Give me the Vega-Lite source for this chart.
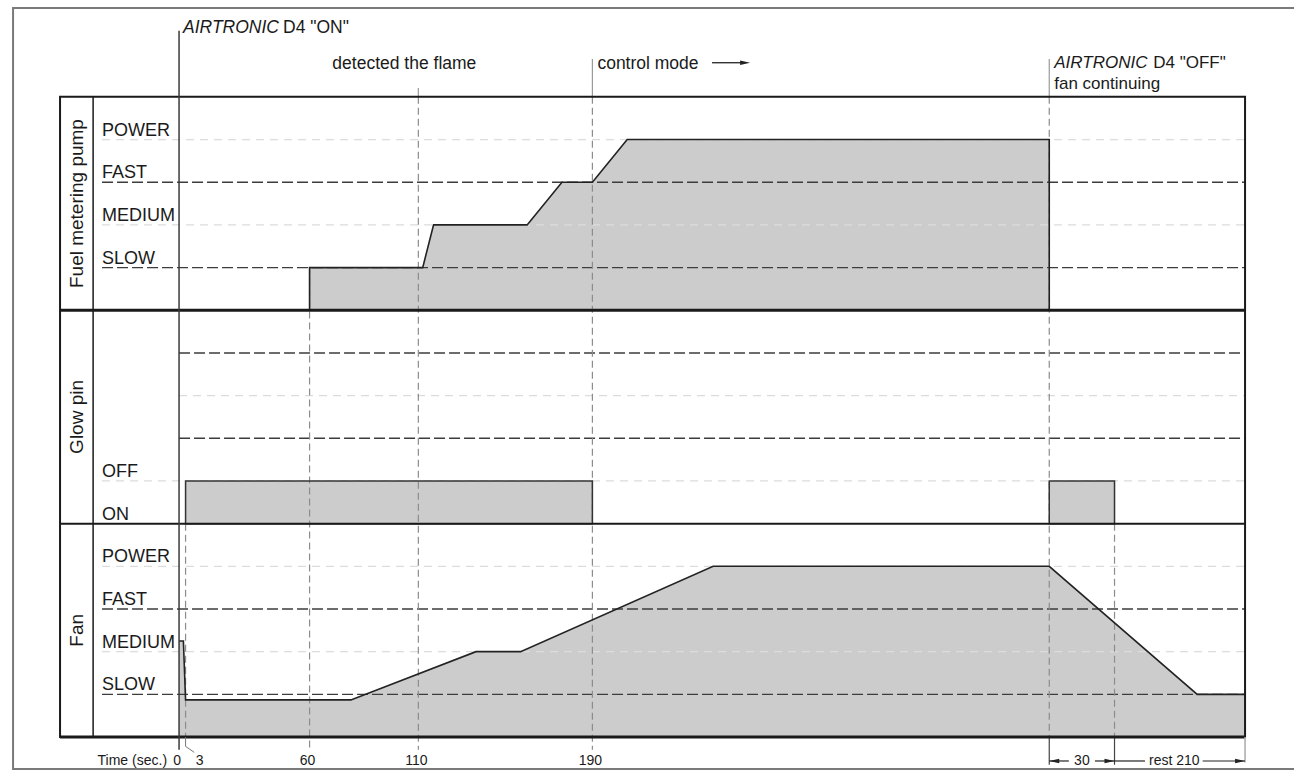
{
"$schema":"https://vega.github.io/schema/vega-lite/v6.json",
"width":1294,"height":772,"padding":0,
"autosize":{"type":"none"},
"background":"white",
"config":{"view":{"stroke":null},"text":{"font":"Liberation Sans","color":"#1a1a1a"}},
"datasets":{
 "levels":[
  {"panel":"Fuel metering pump","label":"POWER","L":14,"kind":"minor"},
  {"panel":"Fuel metering pump","label":"FAST","L":13,"kind":"major"},
  {"panel":"Fuel metering pump","label":"MEDIUM","L":12,"kind":"minor"},
  {"panel":"Fuel metering pump","label":"SLOW","L":11,"kind":"major"},
  {"panel":"Glow pin","label":"","L":9,"kind":"major"},
  {"panel":"Glow pin","label":"","L":8,"kind":"minor"},
  {"panel":"Glow pin","label":"","L":7,"kind":"major"},
  {"panel":"Glow pin","label":"OFF","L":6,"kind":"minor"},
  {"panel":"Glow pin","label":"ON","L":5,"kind":"none"},
  {"panel":"Fan","label":"POWER","L":4,"kind":"minor"},
  {"panel":"Fan","label":"FAST","L":3,"kind":"major"},
  {"panel":"Fan","label":"MEDIUM","L":2,"kind":"minor"},
  {"panel":"Fan","label":"SLOW","L":1,"kind":"major"}
 ],
 "pump":[
  {"i":1,"t":60,"L":10},{"i":2,"t":60,"L":11},{"i":3,"t":112,"L":11},{"i":4,"t":117,"L":12},
  {"i":5,"t":160,"L":12},{"i":6,"t":176,"L":13},{"i":7,"t":190,"L":13},{"i":8,"t":206,"L":14},
  {"i":9,"t":400,"L":14},{"i":10,"t":400,"L":10}
 ],
 "fan":[
  {"i":1,"t":0,"L":2.25},{"i":2,"t":2,"L":2.25},{"i":3,"t":3,"L":0.87},{"i":4,"t":79,"L":0.87},
  {"i":5,"t":136.5,"L":2},{"i":6,"t":157,"L":2},{"i":7,"t":245.5,"L":4},{"i":8,"t":400,"L":4},
  {"i":9,"t":468,"L":1},{"i":10,"t":490,"L":1}
 ],
 "glow":[{"start":3,"end":190},{"start":400,"end":430}],
 "events":[
  {"t":3,"top":5,"bottom":0},{"t":60,"top":11,"bottom":-0.3},{"t":110,"top":15,"bottom":-0.3},
  {"t":190,"top":15,"bottom":-0.3},{"t":400,"top":15,"bottom":0},{"t":430,"top":5,"bottom":0}
 ],
 "panels":[{"title":"Fuel metering pump","mid":12.5},{"title":"Glow pin","mid":7.5},{"title":"Fan","mid":2.5}],
 "ticks":[{"t":0,"label":"0"},{"t":60,"label":"60"},{"t":110,"label":"110"},{"t":190,"label":"190"}],
 "spans":[{"from":400,"to":409},{"from":421,"to":430},{"from":430,"to":444},{"from":470.5,"to":490}]
},
"layer":[
 {"data":{"values":[{}]},"mark":{"type":"rect","fillOpacity":0,"stroke":"#7a7a7a","strokeWidth":2},
  "encoding":{"x":{"datum":-76.3,"type":"quantitative","scale":{"domain":[-82.3,512.5],"nice":false,"zero":false},"axis":null},"x2":{"datum":530},
   "y":{"datum":17.08,"type":"quantitative","scale":{"domain":[-0.82,17.27],"nice":false,"zero":false},"axis":null},"y2":{"datum":-0.75}}},
 {"data":{"name":"pump"},"mark":{"type":"area","fill":"#cccccc","fillOpacity":1},
  "encoding":{"x":{"field":"t","type":"quantitative","scale":{"domain":[-82.3,512.5],"nice":false,"zero":false},"axis":null},
   "y":{"field":"L","type":"quantitative","scale":{"domain":[-0.82,17.27],"nice":false,"zero":false},"axis":null},"y2":{"datum":10}}},
 {"data":{"name":"fan"},"mark":{"type":"area","fill":"#cccccc","fillOpacity":1},
  "encoding":{"x":{"field":"t","type":"quantitative","scale":{"domain":[-82.3,512.5],"nice":false,"zero":false},"axis":null},
   "y":{"field":"L","type":"quantitative","scale":{"domain":[-0.82,17.27],"nice":false,"zero":false},"axis":null},"y2":{"datum":0}}},
 {"data":{"name":"glow"},"mark":{"type":"rect","fill":"#cccccc"},
  "encoding":{"x":{"field":"start","type":"quantitative","scale":{"domain":[-82.3,512.5],"nice":false,"zero":false},"axis":null},"x2":{"field":"end"},
   "y":{"datum":5,"type":"quantitative","scale":{"domain":[-0.82,17.27],"nice":false,"zero":false},"axis":null},"y2":{"datum":6}}},
 {"data":{"name":"levels"},"transform":[{"filter":"datum.label != '' && datum.kind != 'none'"}],"mark":{"type":"rule"},
  "encoding":{"x":{"datum":-35.4,"type":"quantitative","scale":{"domain":[-82.3,512.5],"nice":false,"zero":false},"axis":null},"x2":{"datum":490},
   "y":{"field":"L","type":"quantitative","scale":{"domain":[-0.82,17.27],"nice":false,"zero":false},"axis":null},
   "color":{"field":"kind","type":"nominal","scale":{"domain":["major","minor"],"range":["#3c3c3c","#dcdcdc"]},"legend":null},
   "strokeDash":{"field":"kind","type":"nominal","scale":{"domain":["major","minor"],"range":[[11,4],[8,6]]},"legend":null},
   "strokeWidth":{"field":"kind","type":"nominal","scale":{"domain":["major","minor"],"range":[1.4,1.2]},"legend":null}}},
 {"data":{"name":"levels"},"transform":[{"filter":"datum.label == ''"}],"mark":{"type":"rule"},
  "encoding":{"x":{"datum":0,"type":"quantitative","scale":{"domain":[-82.3,512.5],"nice":false,"zero":false},"axis":null},"x2":{"datum":490},
   "y":{"field":"L","type":"quantitative","scale":{"domain":[-0.82,17.27],"nice":false,"zero":false},"axis":null},
   "color":{"field":"kind","type":"nominal","scale":{"domain":["major","minor"],"range":["#3c3c3c","#dcdcdc"]},"legend":null},
   "strokeDash":{"field":"kind","type":"nominal","scale":{"domain":["major","minor"],"range":[[11,4],[8,6]]},"legend":null},
   "strokeWidth":{"field":"kind","type":"nominal","scale":{"domain":["major","minor"],"range":[1.4,1.2]},"legend":null}}},
 {"data":{"name":"events"},"mark":{"type":"rule","color":"#8c8c8c","strokeWidth":1.2,"strokeDash":[7,4]},
  "encoding":{"x":{"field":"t","type":"quantitative","scale":{"domain":[-82.3,512.5],"nice":false,"zero":false},"axis":null},
   "y":{"field":"top","type":"quantitative","scale":{"domain":[-0.82,17.27],"nice":false,"zero":false},"axis":null},"y2":{"field":"bottom"}}},
 {"data":{"values":[{"t":400},{"t":430}]},"mark":{"type":"rule","color":"#444444","strokeWidth":1.2},
  "encoding":{"x":{"field":"t","type":"quantitative","scale":{"domain":[-82.3,512.5],"nice":false,"zero":false},"axis":null},
   "y":{"datum":0,"type":"quantitative","scale":{"domain":[-0.82,17.27],"nice":false,"zero":false},"axis":null},"y2":{"datum":-0.65}}},
 {"data":{"values":[{"t":110,"top":15.21},{"t":190,"top":15.89},{"t":400,"top":15.89}]},"mark":{"type":"rule","color":"#9a9a9a","strokeWidth":1.2},
  "encoding":{"x":{"field":"t","type":"quantitative","scale":{"domain":[-82.3,512.5],"nice":false,"zero":false},"axis":null},
   "y":{"field":"top","type":"quantitative","scale":{"domain":[-0.82,17.27],"nice":false,"zero":false},"axis":null},"y2":{"datum":15}}},
 {"data":{"name":"pump"},"mark":{"type":"line","color":"#222222","strokeWidth":1.6},
  "encoding":{"x":{"field":"t","type":"quantitative","scale":{"domain":[-82.3,512.5],"nice":false,"zero":false},"axis":null},
   "y":{"field":"L","type":"quantitative","scale":{"domain":[-0.82,17.27],"nice":false,"zero":false},"axis":null},"order":{"field":"i","type":"quantitative"}}},
 {"data":{"name":"fan"},"mark":{"type":"line","color":"#222222","strokeWidth":1.6},
  "encoding":{"x":{"field":"t","type":"quantitative","scale":{"domain":[-82.3,512.5],"nice":false,"zero":false},"axis":null},
   "y":{"field":"L","type":"quantitative","scale":{"domain":[-0.82,17.27],"nice":false,"zero":false},"axis":null},"order":{"field":"i","type":"quantitative"}}},
 {"data":{"name":"glow"},"mark":{"type":"rect","fillOpacity":0,"stroke":"#333333","strokeWidth":1.5},
  "encoding":{"x":{"field":"start","type":"quantitative","scale":{"domain":[-82.3,512.5],"nice":false,"zero":false},"axis":null},"x2":{"field":"end"},
   "y":{"datum":5,"type":"quantitative","scale":{"domain":[-0.82,17.27],"nice":false,"zero":false},"axis":null},"y2":{"datum":6}}},
 {"data":{"values":[{}]},"mark":{"type":"rect","fillOpacity":0,"stroke":"#1a1a1a","strokeWidth":2},
  "encoding":{"x":{"datum":-54.7,"type":"quantitative","scale":{"domain":[-82.3,512.5],"nice":false,"zero":false},"axis":null},"x2":{"datum":490},
   "y":{"datum":0,"type":"quantitative","scale":{"domain":[-0.82,17.27],"nice":false,"zero":false},"axis":null},"y2":{"datum":15}}},
 {"data":{"values":[{"L":10},{"L":0}]},"mark":{"type":"rule","color":"#1a1a1a","strokeWidth":3},
  "encoding":{"x":{"datum":-54.7,"type":"quantitative","scale":{"domain":[-82.3,512.5],"nice":false,"zero":false},"axis":null},"x2":{"datum":490},
   "y":{"field":"L","type":"quantitative","scale":{"domain":[-0.82,17.27],"nice":false,"zero":false},"axis":null}}},
 {"data":{"values":[{"L":5}]},"mark":{"type":"rule","color":"#1a1a1a","strokeWidth":2},
  "encoding":{"x":{"datum":-54.7,"type":"quantitative","scale":{"domain":[-82.3,512.5],"nice":false,"zero":false},"axis":null},"x2":{"datum":490},
   "y":{"field":"L","type":"quantitative","scale":{"domain":[-0.82,17.27],"nice":false,"zero":false},"axis":null}}},
 {"data":{"values":[{}]},"mark":{"type":"rule","color":"#1a1a1a","strokeWidth":1.5},
  "encoding":{"x":{"datum":-39.5,"type":"quantitative","scale":{"domain":[-82.3,512.5],"nice":false,"zero":false},"axis":null},
   "y":{"datum":0,"type":"quantitative","scale":{"domain":[-0.82,17.27],"nice":false,"zero":false},"axis":null},"y2":{"datum":15}}},
 {"data":{"values":[{}]},"mark":{"type":"rule","color":"#3a3a3a","strokeWidth":1.5},
  "encoding":{"x":{"datum":0,"type":"quantitative","scale":{"domain":[-82.3,512.5],"nice":false,"zero":false},"axis":null},
   "y":{"datum":16.55,"type":"quantitative","scale":{"domain":[-0.82,17.27],"nice":false,"zero":false},"axis":null},"y2":{"datum":-0.3}}},
 {"data":{"values":[{}]},"mark":{"type":"rule","color":"#aaaaaa","strokeWidth":1.5},
  "encoding":{"x":{"datum":490,"type":"quantitative","scale":{"domain":[-82.3,512.5],"nice":false,"zero":false},"axis":null},
   "y":{"datum":0,"type":"quantitative","scale":{"domain":[-0.82,17.27],"nice":false,"zero":false},"axis":null},"y2":{"datum":-0.6}}},
 {"data":{"values":[{}]},"mark":{"type":"rule","color":"#777777","strokeWidth":1},
  "encoding":{"x":{"datum":3,"type":"quantitative","scale":{"domain":[-82.3,512.5],"nice":false,"zero":false},"axis":null},
   "y":{"datum":0,"type":"quantitative","scale":{"domain":[-0.82,17.27],"nice":false,"zero":false},"axis":null},"y2":{"datum":-0.22}}},
 {"data":{"values":[{}]},"mark":{"type":"rule","color":"#777777","strokeWidth":1},
  "encoding":{"x":{"datum":3,"type":"quantitative","scale":{"domain":[-82.3,512.5],"nice":false,"zero":false},"axis":null},"x2":{"datum":7},
   "y":{"datum":-0.22,"type":"quantitative","scale":{"domain":[-0.82,17.27],"nice":false,"zero":false},"axis":null},"y2":{"datum":-0.36}}},
 {"data":{"name":"panels"},"mark":{"type":"text","angle":270,"fontSize":19,"align":"center","baseline":"middle"},
  "encoding":{"x":{"datum":-46.9,"type":"quantitative","scale":{"domain":[-82.3,512.5],"nice":false,"zero":false},"axis":null},
   "y":{"field":"mid","type":"quantitative","scale":{"domain":[-0.82,17.27],"nice":false,"zero":false},"axis":null},"text":{"field":"title"}}},
 {"data":{"name":"levels"},"transform":[{"filter":"datum.label != ''"}],"mark":{"type":"text","fontSize":18,"align":"left","baseline":"alphabetic","dy":-4},
  "encoding":{"x":{"datum":-35.4,"type":"quantitative","scale":{"domain":[-82.3,512.5],"nice":false,"zero":false},"axis":null},
   "y":{"field":"L","type":"quantitative","scale":{"domain":[-0.82,17.27],"nice":false,"zero":false},"axis":null},"text":{"field":"label"}}},
 {"data":{"values":[{"t":0,"txt":"AIRTRONIC"}]},"mark":{"type":"text","fontSize":17.5,"fontStyle":"italic","align":"left","baseline":"alphabetic","dx":4},
  "encoding":{"x":{"field":"t","type":"quantitative","scale":{"domain":[-82.3,512.5],"nice":false,"zero":false},"axis":null},
   "y":{"datum":16.5,"type":"quantitative","scale":{"domain":[-0.82,17.27],"nice":false,"zero":false},"axis":null},"text":{"field":"txt"}}},
 {"data":{"values":[{"t":0,"txt":"D4 \"ON\""}]},"mark":{"type":"text","fontSize":17.5,"align":"left","baseline":"alphabetic","dx":104},
  "encoding":{"x":{"field":"t","type":"quantitative","scale":{"domain":[-82.3,512.5],"nice":false,"zero":false},"axis":null},
   "y":{"datum":16.5,"type":"quantitative","scale":{"domain":[-0.82,17.27],"nice":false,"zero":false},"axis":null},"text":{"field":"txt"}}},
 {"data":{"values":[{"t":110,"txt":"detected the flame"}]},"mark":{"type":"text","fontSize":17.5,"align":"center","baseline":"alphabetic","dx":-14},
  "encoding":{"x":{"field":"t","type":"quantitative","scale":{"domain":[-82.3,512.5],"nice":false,"zero":false},"axis":null},
   "y":{"datum":15.653,"type":"quantitative","scale":{"domain":[-0.82,17.27],"nice":false,"zero":false},"axis":null},"text":{"field":"txt"}}},
 {"data":{"values":[{"t":190,"txt":"control mode"}]},"mark":{"type":"text","fontSize":17.5,"align":"left","baseline":"alphabetic","dx":5},
  "encoding":{"x":{"field":"t","type":"quantitative","scale":{"domain":[-82.3,512.5],"nice":false,"zero":false},"axis":null},
   "y":{"datum":15.653,"type":"quantitative","scale":{"domain":[-0.82,17.27],"nice":false,"zero":false},"axis":null},"text":{"field":"txt"}}},
 {"data":{"values":[{}]},"mark":{"type":"rule","color":"#222222","strokeWidth":1.3},
  "encoding":{"x":{"datum":245,"type":"quantitative","scale":{"domain":[-82.3,512.5],"nice":false,"zero":false},"axis":null},"x2":{"datum":259},
   "y":{"datum":15.8,"type":"quantitative","scale":{"domain":[-0.82,17.27],"nice":false,"zero":false},"axis":null}}},
 {"data":{"values":[{}]},"mark":{"type":"point","shape":"M -1 -0.45 L 1 0 L -1 0.45 Z","filled":true,"size":100,"color":"#222222","opacity":1},
  "encoding":{"x":{"datum":260.2,"type":"quantitative","scale":{"domain":[-82.3,512.5],"nice":false,"zero":false},"axis":null},
   "y":{"datum":15.8,"type":"quantitative","scale":{"domain":[-0.82,17.27],"nice":false,"zero":false},"axis":null}}},
 {"data":{"values":[{"t":400,"txt":"AIRTRONIC"}]},"mark":{"type":"text","fontSize":17,"fontStyle":"italic","align":"left","baseline":"alphabetic","dx":5},
  "encoding":{"x":{"field":"t","type":"quantitative","scale":{"domain":[-82.3,512.5],"nice":false,"zero":false},"axis":null},
   "y":{"datum":15.68,"type":"quantitative","scale":{"domain":[-0.82,17.27],"nice":false,"zero":false},"axis":null},"text":{"field":"txt"}}},
 {"data":{"values":[{"t":400,"txt":"D4 \"OFF\""}]},"mark":{"type":"text","fontSize":17,"align":"left","baseline":"alphabetic","dx":104},
  "encoding":{"x":{"field":"t","type":"quantitative","scale":{"domain":[-82.3,512.5],"nice":false,"zero":false},"axis":null},
   "y":{"datum":15.68,"type":"quantitative","scale":{"domain":[-0.82,17.27],"nice":false,"zero":false},"axis":null},"text":{"field":"txt"}}},
 {"data":{"values":[{"t":400,"txt":"fan continuing"}]},"mark":{"type":"text","fontSize":17,"align":"left","baseline":"alphabetic","dx":5},
  "encoding":{"x":{"field":"t","type":"quantitative","scale":{"domain":[-82.3,512.5],"nice":false,"zero":false},"axis":null},
   "y":{"datum":15.19,"type":"quantitative","scale":{"domain":[-0.82,17.27],"nice":false,"zero":false},"axis":null},"text":{"field":"txt"}}},
 {"data":{"name":"ticks"},"mark":{"type":"text","fontSize":14,"align":"center","baseline":"alphabetic","dx":-2},
  "encoding":{"x":{"field":"t","type":"quantitative","scale":{"domain":[-82.3,512.5],"nice":false,"zero":false},"axis":null},
   "y":{"datum":-0.656,"type":"quantitative","scale":{"domain":[-0.82,17.27],"nice":false,"zero":false},"axis":null},"text":{"field":"label"}}},
 {"data":{"values":[{"t":3,"label":"3"}]},"mark":{"type":"text","fontSize":14,"align":"center","baseline":"alphabetic","dx":14},
  "encoding":{"x":{"field":"t","type":"quantitative","scale":{"domain":[-82.3,512.5],"nice":false,"zero":false},"axis":null},
   "y":{"datum":-0.656,"type":"quantitative","scale":{"domain":[-0.82,17.27],"nice":false,"zero":false},"axis":null},"text":{"field":"label"}}},
 {"data":{"values":[{"t":0,"txt":"Time (sec.)"}]},"mark":{"type":"text","fontSize":14,"align":"right","baseline":"alphabetic","dx":-12},
  "encoding":{"x":{"field":"t","type":"quantitative","scale":{"domain":[-82.3,512.5],"nice":false,"zero":false},"axis":null},
   "y":{"datum":-0.656,"type":"quantitative","scale":{"domain":[-0.82,17.27],"nice":false,"zero":false},"axis":null},"text":{"field":"txt"}}},
 {"data":{"values":[{"t":415,"txt":"30"},{"t":457.5,"txt":"rest 210"}]},"mark":{"type":"text","fontSize":14,"align":"center","baseline":"alphabetic"},
  "encoding":{"x":{"field":"t","type":"quantitative","scale":{"domain":[-82.3,512.5],"nice":false,"zero":false},"axis":null},
   "y":{"datum":-0.656,"type":"quantitative","scale":{"domain":[-0.82,17.27],"nice":false,"zero":false},"axis":null},"text":{"field":"txt"}}},
 {"data":{"name":"spans"},"mark":{"type":"rule","color":"#222222","strokeWidth":1.2},
  "encoding":{"x":{"field":"from","type":"quantitative","scale":{"domain":[-82.3,512.5],"nice":false,"zero":false},"axis":null},"x2":{"field":"to"},
   "y":{"datum":-0.562,"type":"quantitative","scale":{"domain":[-0.82,17.27],"nice":false,"zero":false},"axis":null}}},
 {"data":{"values":[{"t":400}]},"mark":{"type":"point","shape":"M 1 -0.45 L -1 0 L 1 0.45 Z","filled":true,"size":100,"color":"#222222","opacity":1,"xOffset":5},
  "encoding":{"x":{"field":"t","type":"quantitative","scale":{"domain":[-82.3,512.5],"nice":false,"zero":false},"axis":null},
   "y":{"datum":-0.562,"type":"quantitative","scale":{"domain":[-0.82,17.27],"nice":false,"zero":false},"axis":null}}},
 {"data":{"values":[{"t":430},{"t":490}]},"mark":{"type":"point","shape":"M -1 -0.45 L 1 0 L -1 0.45 Z","filled":true,"size":100,"color":"#222222","opacity":1,"xOffset":-5},
  "encoding":{"x":{"field":"t","type":"quantitative","scale":{"domain":[-82.3,512.5],"nice":false,"zero":false},"axis":null},
   "y":{"datum":-0.562,"type":"quantitative","scale":{"domain":[-0.82,17.27],"nice":false,"zero":false},"axis":null}}}
]
}
